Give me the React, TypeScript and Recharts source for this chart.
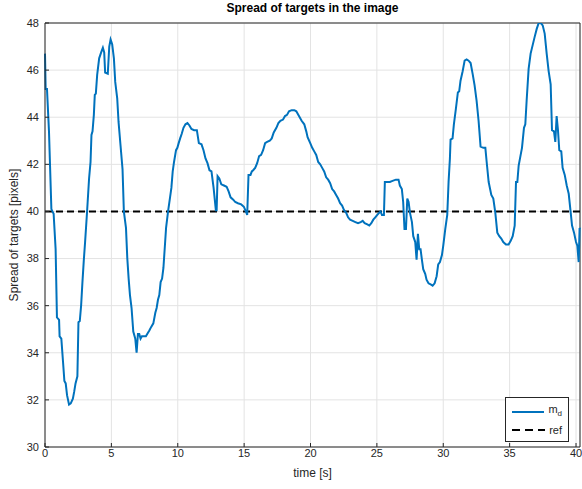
import React from 'react';
import {
  LineChart,
  Line,
  XAxis,
  YAxis,
  CartesianGrid,
  Legend,
  ReferenceLine,
} from 'recharts';

// time stamps [s] of the measured spread
const time = [
  0, 0.05, 0.15, 0.3, 0.48, 0.65, 0.8, 0.9, 1.06, 1.1, 1.23, 1.36, 1.46, 1.56, 1.66, 1.81, 1.94,
  2.1, 2.2, 2.3, 2.44, 2.52, 2.62, 2.72, 2.82, 2.92, 3.02, 3.17, 3.32, 3.43, 3.5, 3.58, 3.68, 3.75,
  3.83, 3.93, 4.08, 4.23, 4.36, 4.46, 4.53, 4.73, 4.84, 4.94, 5.06, 5.19, 5.29, 5.44, 5.54, 5.69,
  5.84, 5.94, 6.1, 6.2, 6.3, 6.4, 6.52, 6.65, 6.8, 6.9, 7.0, 7.1, 7.2, 7.3, 7.46, 7.6, 7.7, 7.86,
  8.0, 8.16, 8.31, 8.41, 8.51, 8.61, 8.71, 8.82, 8.92, 9.02, 9.12, 9.27, 9.42, 9.52, 9.62, 9.72,
  9.87, 9.97, 10.07, 10.18, 10.3, 10.43, 10.58, 10.73, 10.88, 11.03, 11.23, 11.44, 11.59, 11.79,
  11.94, 12.09, 12.24, 12.39, 12.54, 12.7, 12.87, 12.93, 13.0, 13.13, 13.28, 13.48, 13.68, 13.83,
  13.98, 14.18, 14.33, 14.53, 14.78, 14.98, 15.13, 15.23, 15.33, 15.48, 15.58, 15.68, 15.83, 15.98,
  16.13, 16.28, 16.43, 16.58, 16.73, 16.93, 17.08, 17.23, 17.43, 17.58, 17.73, 17.93, 18.08, 18.23,
  18.38, 18.58, 18.78, 18.93, 19.13, 19.33, 19.53, 19.68, 19.78, 19.98, 20.13, 20.28, 20.43, 20.58,
  20.73, 20.88, 21.03, 21.18, 21.33, 21.48, 21.63, 21.78, 21.93, 22.08, 22.23, 22.38, 22.53, 22.68,
  22.83, 22.98, 23.18, 23.38, 23.58, 23.78, 23.93, 24.08, 24.28, 24.43, 24.58, 24.73, 24.88, 25.03,
  25.18, 25.28, 25.38, 25.53, 25.6, 25.78, 25.98, 26.18, 26.43, 26.63, 26.73, 26.88, 26.98, 27.08,
  27.19, 27.29, 27.39, 27.49, 27.64, 27.74, 27.89, 27.99, 28.09, 28.19, 28.29, 28.39, 28.49, 28.64,
  28.74, 28.89, 29.05, 29.2, 29.35, 29.5, 29.62, 29.75, 29.9, 30.0, 30.15, 30.3, 30.4, 30.5, 30.55,
  30.7, 30.8, 30.95, 31.1, 31.2, 31.3, 31.46, 31.61, 31.76, 31.91, 32.06, 32.21, 32.36, 32.51, 32.66,
  32.81, 33.02, 33.17, 33.27, 33.42, 33.62, 33.77, 33.92, 34.07, 34.22, 34.37, 34.52, 34.72, 34.92,
  35.08, 35.23, 35.38, 35.48, 35.58, 35.68, 35.83, 35.93, 36.08, 36.18, 36.28, 36.43, 36.58, 36.73,
  36.88, 37.04, 37.19, 37.34, 37.49, 37.64, 37.79, 37.94, 38.09, 38.19, 38.34, 38.44, 38.54, 38.64,
  38.74, 38.89, 38.99, 39.15, 39.3, 39.45, 39.6, 39.7, 39.85, 40.0, 40.1, 40.2, 40.27, 40.3,
];

// m_d: spread of targets [pixels]
const spread = [
  46.7, 45.2, 45.2, 43.4, 40.1, 39.9, 38.4, 35.5, 35.4, 34.7, 34.6, 33.6, 32.8, 32.7, 32.2, 31.8, 31.85,
  32.05, 32.35, 32.7, 33.0, 35.3, 35.35, 36.0, 37.0, 37.9, 38.7, 40.0, 41.4, 42.1, 43.25, 43.4, 44.1, 44.95,
  45.0, 45.8, 46.5, 46.75, 46.95, 46.75, 45.9, 45.85, 47.0, 47.3, 47.1, 46.5, 45.5, 44.8, 43.8, 42.8,
  41.8, 40.0, 39.3, 38.0, 37.15, 36.45, 35.9, 34.9, 34.6, 34.0, 34.8, 34.8, 34.6, 34.7, 34.7, 34.7, 34.8, 34.95,
  35.1, 35.25, 35.7, 35.9, 36.25, 36.45, 37.0, 37.15, 37.6, 38.45, 39.3, 40.0, 40.6, 41.0, 41.7, 42.1,
  42.6, 42.7, 42.9, 43.1, 43.3, 43.55, 43.7, 43.75, 43.65, 43.5, 43.45, 43.45, 42.9, 42.85,
  42.6, 42.25, 42.05, 41.75, 41.7, 41.0, 40.05, 40.05, 41.5, 41.4, 41.15, 41.1, 41.05, 40.85,
  40.6, 40.5, 40.4, 40.35, 40.3, 40.2, 40.0, 39.85, 41.55, 41.55, 41.7, 41.75, 41.85, 42.05,
  42.35, 42.4, 42.6, 42.9, 42.95, 43.0, 43.1, 43.35, 43.55, 43.75, 43.85, 43.9, 44.05, 44.1,
  44.25, 44.3, 44.3, 44.25, 44.05, 43.85, 43.7, 43.4, 43.15, 42.9, 42.7, 42.55, 42.4, 42.1,
  42.0, 41.85, 41.7, 41.45, 41.35, 41.2, 40.95, 40.85, 40.7, 40.55, 40.35, 40.25, 40.05, 39.95,
  39.75, 39.65, 39.6, 39.55, 39.5, 39.55, 39.6, 39.5, 39.45, 39.4, 39.5, 39.65, 39.75, 39.85,
  39.95, 40.0, 39.85, 39.85, 41.25, 41.25, 41.25, 41.3, 41.35, 41.35, 41.1, 40.95, 40.4, 39.25,
  39.25, 40.55, 40.4, 39.95, 39.55, 38.95, 38.7, 37.95, 39.05, 38.4, 38.4, 37.95, 37.55, 37.35,
  37.1, 36.95, 36.9, 36.85, 36.95, 37.25, 37.75, 37.85, 38.15, 38.55, 39.25, 39.85, 41.25, 42.25, 43.05,
  43.1, 43.7, 44.35, 45.05, 45.1, 45.55, 45.95, 46.4, 46.45, 46.4, 46.3, 45.85, 45.35, 44.7, 43.85,
  42.75, 42.7, 42.7, 42.1, 41.25, 40.7, 40.55, 39.95, 39.1, 38.95, 38.85, 38.7, 38.6, 38.6,
  38.75, 38.95, 39.4, 41.25, 41.25, 41.95, 42.4, 42.7, 43.55, 43.7, 44.7, 46.05, 46.7, 47.05,
  47.4, 47.75, 48.0, 48.0, 47.9, 47.55, 46.7, 45.95, 45.4, 43.45, 43.4, 42.95, 44.05, 43.45,
  42.6, 42.55, 41.85, 41.55, 41.1, 40.75, 39.95, 39.4, 39.1, 38.7, 38.55, 37.85, 39.3, 39.25,
];

// reference spread
const refTime = [0, 40.3];
const refValue = [40, 40];

const xTicks = [0, 5, 10, 15, 20, 25, 30, 35, 40];
const yTicks = [30, 32, 34, 36, 38, 40, 42, 44, 46, 48];

const mdData = time.map((t, i) => ({ t, md: spread[i] }));
const refData = refTime.map((t, i) => ({ t, ref: refValue[i] }));

const FONT = '"Liberation Sans", Arial, Helvetica, sans-serif';
const TEXT = '#262626';

const LegendBox = () => (
  <div
    style={{
      border: `1px solid ${TEXT}`,
      background: '#fff',
      fontFamily: FONT,
      fontSize: 11,
      color: TEXT,
      padding: '3px 6px',
      lineHeight: '16px',
      boxSizing: 'border-box',
      width: 64,
    }}
  >
    <div style={{ display: 'flex', alignItems: 'center' }}>
      <svg width={35} height={10}>
        <line x1={0} y1={5} x2={35} y2={5} stroke="#0072BD" strokeWidth={2} />
      </svg>
      <span style={{ marginLeft: 4 }}>
        m<sub style={{ fontSize: 8 }}>d</sub>
      </span>
    </div>
    <div style={{ display: 'flex', alignItems: 'center' }}>
      <svg width={35} height={10}>
        <line x1={0} y1={5} x2={35} y2={5} stroke="#000" strokeWidth={2} strokeDasharray="8 5" />
      </svg>
      <span style={{ marginLeft: 4 }}>ref</span>
    </div>
  </div>
);

const App: React.FC = () => {
  return (
    <div style={{ position: 'absolute', left: 0, top: 0, width: 582, height: 489, background: '#fff' }}>
      <div
        style={{
          position: 'absolute',
          left: 45,
          width: 535,
          top: 1,
          textAlign: 'center',
          fontFamily: FONT,
          fontWeight: 'bold',
          fontSize: 12,
          color: '#000',
        }}
      >
        Spread of targets in the image
      </div>
      <LineChart
        width={582}
        height={489}
        margin={{ top: 23, right: 2, bottom: 0, left: 0 }}
        style={{ fontFamily: FONT }}
      >
        <CartesianGrid stroke="#e3e3e3" strokeWidth={1} />
        <XAxis
          dataKey="t"
          type="number"
          domain={[0, 40.3]}
          ticks={xTicks}
          height={42}
          allowDuplicatedCategory={false}
          axisLine={{ stroke: TEXT }}
          tickLine={{ stroke: TEXT }}
          tickSize={-4}
          tickMargin={6}
          tick={{ fill: TEXT, fontSize: 11 }}
          label={{ value: 'time [s]', position: 'insideBottom', offset: 12, fill: TEXT, fontSize: 12 }}
        />
        <YAxis
          type="number"
          domain={[30, 48]}
          ticks={yTicks}
          width={45}
          allowDataOverflow
          axisLine={{ stroke: TEXT }}
          tickLine={{ stroke: TEXT }}
          tickSize={-4}
          tickMargin={10}
          tick={{ fill: TEXT, fontSize: 11 }}
          label={{
            value: 'Spread of targets [pixels]',
            angle: -90,
            position: 'insideLeft',
            offset: 14,
            style: { textAnchor: 'middle' },
            fill: TEXT,
            fontSize: 12,
          }}
        />
        <ReferenceLine x={40.3} stroke={TEXT} strokeWidth={1} />
        <ReferenceLine y={48} stroke={TEXT} strokeWidth={1} />
        <Line
          data={refData}
          dataKey="ref"
          name="ref"
          stroke="#000"
          strokeWidth={2}
          strokeDasharray="7 4"
          dot={false}
          isAnimationActive={false}
        />
        <Line
          data={mdData}
          dataKey="md"
          name="m_d"
          stroke="#0072BD"
          strokeWidth={2}
          dot={false}
          type="linear"
          isAnimationActive={false}
        />
        <Legend
          layout="horizontal"
          verticalAlign="middle"
          align="center"
          content={() => <LegendBox />}
          wrapperStyle={{ position: 'absolute', left: 505, top: 397, width: 64 }}
        />
      </LineChart>
    </div>
  );
};

export default App;
